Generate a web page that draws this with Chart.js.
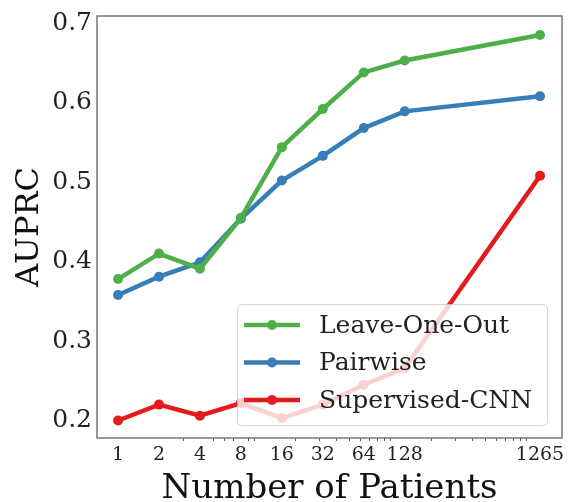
<!DOCTYPE html>
<html>
<head>
<meta charset="utf-8">
<script src="https://cdn.jsdelivr.net/npm/chart.js@4/dist/chart.umd.min.js"></script>
<style>
  html, body { margin: 0; padding: 0; background: #fff; }
  #wrap { width: 571px; height: 502px; }
</style>
</head>
<body>
<div id="wrap"><canvas id="chart" width="571" height="502"></canvas></div>
<script>
// Datos del gráfico
const patients = [1, 2, 4, 8, 16, 32, 64, 128, 1265];
const leaveOneOut = [0.378, 0.410, 0.391, 0.455, 0.544, 0.592, 0.638, 0.653, 0.685];
const pairwise = [0.358, 0.381, 0.399, 0.454, 0.502, 0.533, 0.568, 0.589, 0.608];
const supervisedCnn = [0.200, 0.220, 0.206, 0.222, 0.203, 0.220, 0.245, 0.266, 0.508];
const yTicks = [0.2, 0.3, 0.4, 0.5, 0.6, 0.7];
const xMinorTicks = [3, 5, 6, 7, 9, 10, 20, 30, 40, 50, 60, 70, 80, 90, 100, 200, 300, 400, 500, 600, 700, 800, 900, 1000];

const serif = "'DejaVu Serif', serif";

function toPoints(values) {
  return patients.map((p, i) => ({ x: p, y: values[i] }));
}

function makeSet(label, values, color) {
  return {
    label: label,
    data: toPoints(values),
    borderColor: color,
    backgroundColor: color,
    borderWidth: 4.5,
    pointRadius: 5,
    pointHoverRadius: 5,
    pointBorderWidth: 0,
    tension: 0
  };
}

// Caja del gráfico, marcas menores y leyenda semitransparente
const framePlugin = {
  id: 'frame',
  afterDatasetsDraw(chart) {
    const { ctx, chartArea: a, scales } = chart;
    ctx.save();
    // marcas menores del eje x
    ctx.strokeStyle = '#555';
    ctx.lineWidth = 1;
    xMinorTicks.forEach(v => {
      const px = Math.round(scales.x.getPixelForValue(v)) + 0.5;
      ctx.beginPath();
      ctx.moveTo(px, a.bottom);
      ctx.lineTo(px, a.bottom + 3);
      ctx.stroke();
    });

    // leyenda
    const lx = 237, ly = 304, lw = 310, lh = 121;
    ctx.fillStyle = 'rgba(255,255,255,0.8)';
    ctx.strokeStyle = 'rgba(200,200,200,0.8)';
    ctx.lineWidth = 1;
    ctx.beginPath();
    ctx.roundRect(lx + 0.5, ly + 0.5, lw, lh, 4);
    ctx.fill();
    ctx.stroke();
    ctx.font = '25px ' + serif;
    ctx.textBaseline = 'middle';
    chart.data.datasets.forEach((ds, i) => {
      const cy = ly + 21 + i * 37.5;
      ctx.strokeStyle = ds.borderColor;
      ctx.lineWidth = 4.5;
      ctx.beginPath();
      ctx.moveTo(lx + 7, cy);
      ctx.lineTo(lx + 63, cy);
      ctx.stroke();
      ctx.fillStyle = ds.borderColor;
      ctx.beginPath();
      ctx.arc(lx + 35, cy, 5, 0, Math.PI * 2);
      ctx.fill();
      ctx.fillStyle = '#222';
      ctx.fillText(ds.label, lx + 82, cy + 1);
    });

    // marco
    ctx.strokeStyle = '#777';
    ctx.lineWidth = 1.5;
    ctx.strokeRect(a.left, a.top, a.right - a.left, a.bottom - a.top);
    ctx.restore();
  }
};

const chart = new Chart(document.getElementById('chart').getContext('2d'), {
  type: 'line',
  data: {
    datasets: [
      makeSet('Leave-One-Out', leaveOneOut, '#4daf4a'),
      makeSet('Pairwise', pairwise, '#377eb8'),
      makeSet('Supervised-CNN', supervisedCnn, '#e41a1c')
    ]
  },
  options: {
    responsive: false,
    animation: false,
    layout: { padding: { left: 0, top: 14, right: 9, bottom: 0 } },
    plugins: {
      legend: { display: false },
      tooltip: { enabled: false }
    },
    scales: {
      x: {
        type: 'logarithmic',
        min: 0.70,
        max: 1835,
        afterBuildTicks: scale => { scale.ticks = patients.map(v => ({ value: v })); },
        afterFit: scale => { scale.height = 64; },
        grid: { display: false, drawOnChartArea: false, tickLength: 5, tickColor: '#555' },
        border: { display: false },
        ticks: {
          color: '#222',
          font: { family: serif, size: 19 },
          padding: 1,
          autoSkip: false,
          maxRotation: 0,
          callback: value => String(value)
        },
        title: {
          display: true,
          text: 'Number of Patients',
          color: '#111',
          font: { family: serif, size: 34 },
          padding: { top: 0, bottom: -8 }
        }
      },
      y: {
        type: 'linear',
        min: 0.178,
        max: 0.709,
        afterBuildTicks: scale => { scale.ticks = yTicks.map(v => ({ value: v })); },
        afterFit: scale => { scale.width = 97; },
        grid: { display: false, drawOnChartArea: false, tickLength: 4, tickColor: '#555' },
        border: { display: false },
        ticks: {
          color: '#222',
          font: { family: serif, size: 25 },
          padding: 1,
          callback: value => value.toFixed(1)
        },
        title: {
          display: true,
          text: 'AUPRC',
          color: '#111',
          font: { family: serif, size: 32 },
          padding: { top: 10, bottom: 0 }
        }
      }
    }
  },
  plugins: [framePlugin]
});
</script>
</body>
</html>
